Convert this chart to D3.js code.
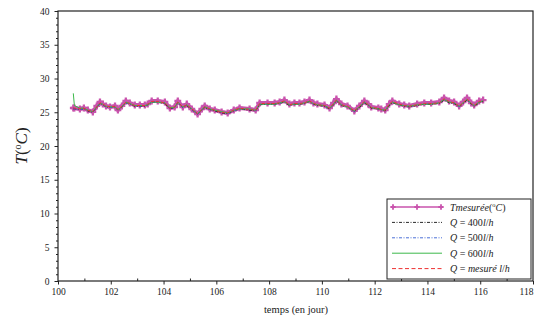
<!DOCTYPE html>
<html><head><meta charset="utf-8">
<script src="https://cdn.jsdelivr.net/npm/d3@7"></script>
<style>body{margin:0;background:#fff}svg{display:block}</style>
</head><body>
<svg id="c" width="536" height="325"></svg>
<script>
const days = [100.58,100.62,100.83,100.98,101.13,101.32,101.47,101.59,101.70,101.82,
101.97,102.16,102.27,102.42,102.57,102.72,102.91,103.10,103.29,103.40,
103.55,103.78,104.05,104.24,104.42,104.54,104.73,104.88,105.07,105.29,
105.45,105.56,105.75,105.94,106.20,106.43,106.66,106.88,107.26,107.49,
107.64,107.94,108.21,108.40,108.58,108.77,108.96,109.15,109.34,109.53,
109.68,109.83,110.10,110.29,110.44,110.55,110.74,110.97,111.23,111.42,
111.61,111.76,111.87,112.14,112.25,112.40,112.55,112.67,112.93,113.12,
113.31,113.61,113.88,114.14,114.45,114.63,114.82,115.01,115.20,115.35,
115.50,115.66,115.77,115.96,116.11];
const tMesuree = [25.63,25.63,25.48,25.63,25.33,25.04,25.93,26.52,26.22,25.93,
25.78,25.93,25.33,25.93,26.67,26.37,26.07,26.07,26.07,26.22,
26.67,26.67,26.52,25.63,25.78,26.67,25.78,26.22,25.48,24.74,
25.48,25.93,25.48,25.33,25.04,24.89,25.33,25.63,25.48,25.33,
26.37,26.37,26.37,26.52,26.81,26.22,26.37,26.37,26.52,26.81,
26.37,26.22,26.07,25.63,26.37,26.96,26.22,25.93,25.19,25.93,
26.67,26.22,25.78,25.63,25.48,25.33,26.22,26.67,26.22,26.07,
25.93,26.22,26.37,26.37,26.52,27.11,26.67,26.52,25.93,26.52,
27.11,26.37,26.07,26.67,26.81];
const q400 = [25.5,25.5,25.4,25.5,25.2,25.0,25.7,26.3,26.1,25.8,
25.7,25.8,25.3,25.8,26.4,26.2,25.9,25.9,25.9,26.1,
26.5,26.5,26.3,25.5,25.7,26.4,25.7,26.0,25.4,24.7,
25.3,25.7,25.4,25.2,24.9,24.8,25.2,25.5,25.3,25.2,
26.1,26.2,26.2,26.3,26.5,26.0,26.2,26.2,26.3,26.6,
26.2,26.0,25.9,25.5,26.1,26.7,26.0,25.8,25.1,25.7,
26.4,26.0,25.6,25.5,25.4,25.2,26.0,26.4,26.1,25.9,
25.8,26.0,26.2,26.2,26.3,26.8,26.4,26.3,25.8,26.3,
26.8,26.2,25.9,26.4,26.6];
const q500 = [25.6,25.5,25.4,25.5,25.3,25.0,25.8,26.3,26.1,25.8,
25.7,25.8,25.3,25.9,26.4,26.2,26.0,25.9,26.0,26.1,
26.5,26.5,26.4,25.6,25.7,26.4,25.7,26.1,25.4,24.7,
25.4,25.8,25.4,25.3,25.0,24.8,25.2,25.5,25.4,25.2,
26.2,26.2,26.2,26.3,26.6,26.1,26.2,26.3,26.4,26.6,
26.2,26.1,25.9,25.5,26.2,26.7,26.1,25.8,25.1,25.8,
26.5,26.1,25.7,25.5,25.4,25.3,26.1,26.5,26.1,26.0,
25.8,26.1,26.2,26.3,26.4,26.9,26.5,26.4,25.8,26.4,
26.9,26.2,26.0,26.5,26.7];
const q600 = [27.8,26.0,25.6,25.6,25.3,25.1,25.8,26.3,26.2,25.9,
25.8,25.8,25.4,25.8,26.5,26.3,26.0,26.0,26.0,26.1,
26.5,26.5,26.4,25.7,25.7,26.5,25.8,26.1,25.5,24.8,
25.4,25.8,25.5,25.3,25.1,24.9,25.3,25.5,25.5,25.3,
26.2,26.2,26.2,26.4,26.6,26.1,26.2,26.2,26.4,26.6,
26.3,26.1,26.0,25.6,26.2,26.8,26.1,25.8,25.2,25.8,
26.5,26.1,25.7,25.5,25.4,25.3,26.1,26.5,26.1,26.0,
25.9,26.1,26.2,26.2,26.4,26.9,26.5,26.4,25.9,26.4,
26.9,26.3,26.0,26.5,26.7];
const qMesure = [25.7,25.6,25.5,25.6,25.3,25.1,25.8,26.4,26.2,25.9,
25.8,25.9,25.4,25.9,26.5,26.3,26.0,26.0,26.0,26.2,
26.6,26.6,26.4,25.6,25.8,26.5,25.8,26.1,25.5,24.8,
25.4,25.8,25.5,25.3,25.0,24.9,25.3,25.6,25.4,25.3,
26.3,26.3,26.3,26.4,26.7,26.1,26.3,26.3,26.4,26.7,
26.3,26.1,26.0,25.6,26.3,26.8,26.1,25.9,25.2,25.9,
26.6,26.1,25.7,25.6,25.4,25.3,26.2,26.6,26.2,26.0,
25.9,26.1,26.3,26.3,26.4,27.0,26.6,26.4,25.9,26.4,
27.0,26.3,26.0,26.6,26.7];
const xTicks = [100,102,104,106,108,110,112,114,116,118];
const yTicks = [0,5,10,15,20,25,30,35,40];

const svg = d3.select('#c');
const L=58,R=533,T=11,B=281;
const x = d3.scaleLinear().domain([100,118]).range([L,R]);
const y = d3.scaleLinear().domain([0,40]).range([B,T]);
const serif = "'Liberation Serif','DejaVu Serif',serif";

// minor ticks
const gx = svg.append('g').attr('transform',`translate(0,${B})`);
gx.call(d3.axisBottom(x).tickValues(d3.range(101,118,2)).tickSize(-2.5).tickFormat(''));
gx.call(g=>g.select('.domain').remove());
const gx2 = svg.append('g').attr('transform',`translate(0,${B})`)
  .call(d3.axisBottom(x).tickValues(xTicks).tickSize(3.5).tickPadding(4).tickFormat(d3.format('d')));
gx2.select('.domain').remove();
gx2.selectAll('text').attr('font-family',serif).attr('font-size',9.5).attr('fill','#222')
  .attr('dx',d=>d===118?-7:0);

const gy = svg.append('g').attr('transform',`translate(${L},0)`);
gy.call(d3.axisLeft(y).tickValues(d3.range(0,41,1).filter(v=>v%5)).tickSize(2).tickFormat(''));
gy.call(g=>g.select('.domain').remove());
const gy2 = svg.append('g').attr('transform',`translate(${L},0)`)
  .call(d3.axisLeft(y).tickValues(yTicks).tickSize(3.5).tickPadding(5).tickFormat(d3.format('d')));
gy2.select('.domain').remove();
gy2.selectAll('text').attr('font-family',serif).attr('font-size',9.5).attr('fill','#222');
svg.selectAll('.tick line').attr('stroke','#222');

// frame
svg.append('rect').attr('x',L).attr('y',T).attr('width',R-L).attr('height',B-T)
  .attr('fill','none').attr('stroke','#222').attr('stroke-width',1.2);

const line = d3.line().x((d,i)=>x(days[i])).y(d=>y(d));
const magenta = '#c953ad';
// measured
svg.append('path').datum(tMesuree).attr('d',line).attr('fill','none')
  .attr('stroke',magenta).attr('stroke-width',4).attr('stroke-linejoin','round');
svg.append('g').selectAll('path').data(tMesuree).join('path')
  .attr('transform',(d,i)=>`translate(${x(days[i])},${y(d)})`)
  .attr('d',d3.symbol().type(d3.symbolCross).size(26)).attr('fill',magenta);

const series = [
 {v:q400, c:'#111', dash:'3,1.5,1,1.5', w:0.9},
 {v:q500, c:'#4a6fd8', dash:'3,1.5,1,1.5', w:0.9},
 {v:q600, c:'#3cb94a', dash:null, w:1},
 {v:qMesure, c:'#ee3030', dash:'3,2', w:1}
];
series.forEach(s=>{
  svg.append('path').datum(s.v).attr('d',line).attr('fill','none')
    .attr('stroke',s.c).attr('stroke-width',s.w).attr('stroke-dasharray',s.dash);
});

// axis labels
svg.append('text').attr('x',296).attr('y',313).attr('text-anchor','middle')
  .attr('font-family',serif).attr('font-size',10.5).attr('fill','#222').text('temps (en jour)');
const yl = svg.append('text').attr('transform','translate(27,146) rotate(-90)').attr('text-anchor','middle')
  .attr('font-family',serif).attr('font-size',17).attr('fill','#222');
yl.append('tspan').attr('font-style','italic').text('T');
yl.append('tspan').text('(');
yl.append('tspan').attr('font-size',10).attr('dy',-6).text('o');
yl.append('tspan').attr('font-style','italic').attr('dy',6).text('C');
yl.append('tspan').text(')');

// legend
const lg = svg.append('g');
lg.append('rect').attr('x',387).attr('y',199).attr('width',144).attr('height',80)
  .attr('fill','#fff').attr('stroke','#222').attr('stroke-width',1);
const legendItems = [
  {parts:[['Tmesurée','i'],['(',''],['o','sup'],['C','i'],[')','']], c:magenta, dash:null, w:1.5, mark:true},
  {parts:[['Q','i'],[' = 400',''],['l','i'],['/',''],['h','i']], c:'#111', dash:'3,1.5,1,1.5', w:0.9},
  {parts:[['Q','i'],[' = 500',''],['l','i'],['/',''],['h','i']], c:'#4a6fd8', dash:'3,1.5,1,1.5', w:1},
  {parts:[['Q','i'],[' = 600',''],['l','i'],['/',''],['h','i']], c:'#3cb94a', dash:null, w:1},
  {parts:[['Q','i'],[' = ',''],['mesuré l','i'],['/',''],['h','i']], c:'#ee3030', dash:'4,2.5', w:1}
];
legendItems.forEach((it,k)=>{
  const yy = 207 + k*15.4;
  lg.append('line').attr('x1',392).attr('x2',442).attr('y1',yy).attr('y2',yy)
    .attr('stroke',it.c).attr('stroke-width',it.w).attr('stroke-dasharray',it.dash);
  if(it.mark){
    [393,417,441].forEach(px=>lg.append('path').attr('transform',`translate(${px},${yy})`)
      .attr('d',d3.symbol().type(d3.symbolCross).size(16)).attr('fill',it.c));
  }
  const t = lg.append('text').attr('x',450).attr('y',yy+3.5).attr('font-family',serif)
    .attr('font-size',10).attr('fill','#222');
  let sup=false;
  it.parts.forEach(([s,st])=>{
    const ts = t.append('tspan').text(s);
    if(st==='i') ts.attr('font-style','italic');
    if(st==='sup'){ts.attr('font-size',6.5).attr('dy',-4); sup=true;}
    else if(sup){ts.attr('dy',4); sup=false;}
  });
});
</script>
</body></html>
